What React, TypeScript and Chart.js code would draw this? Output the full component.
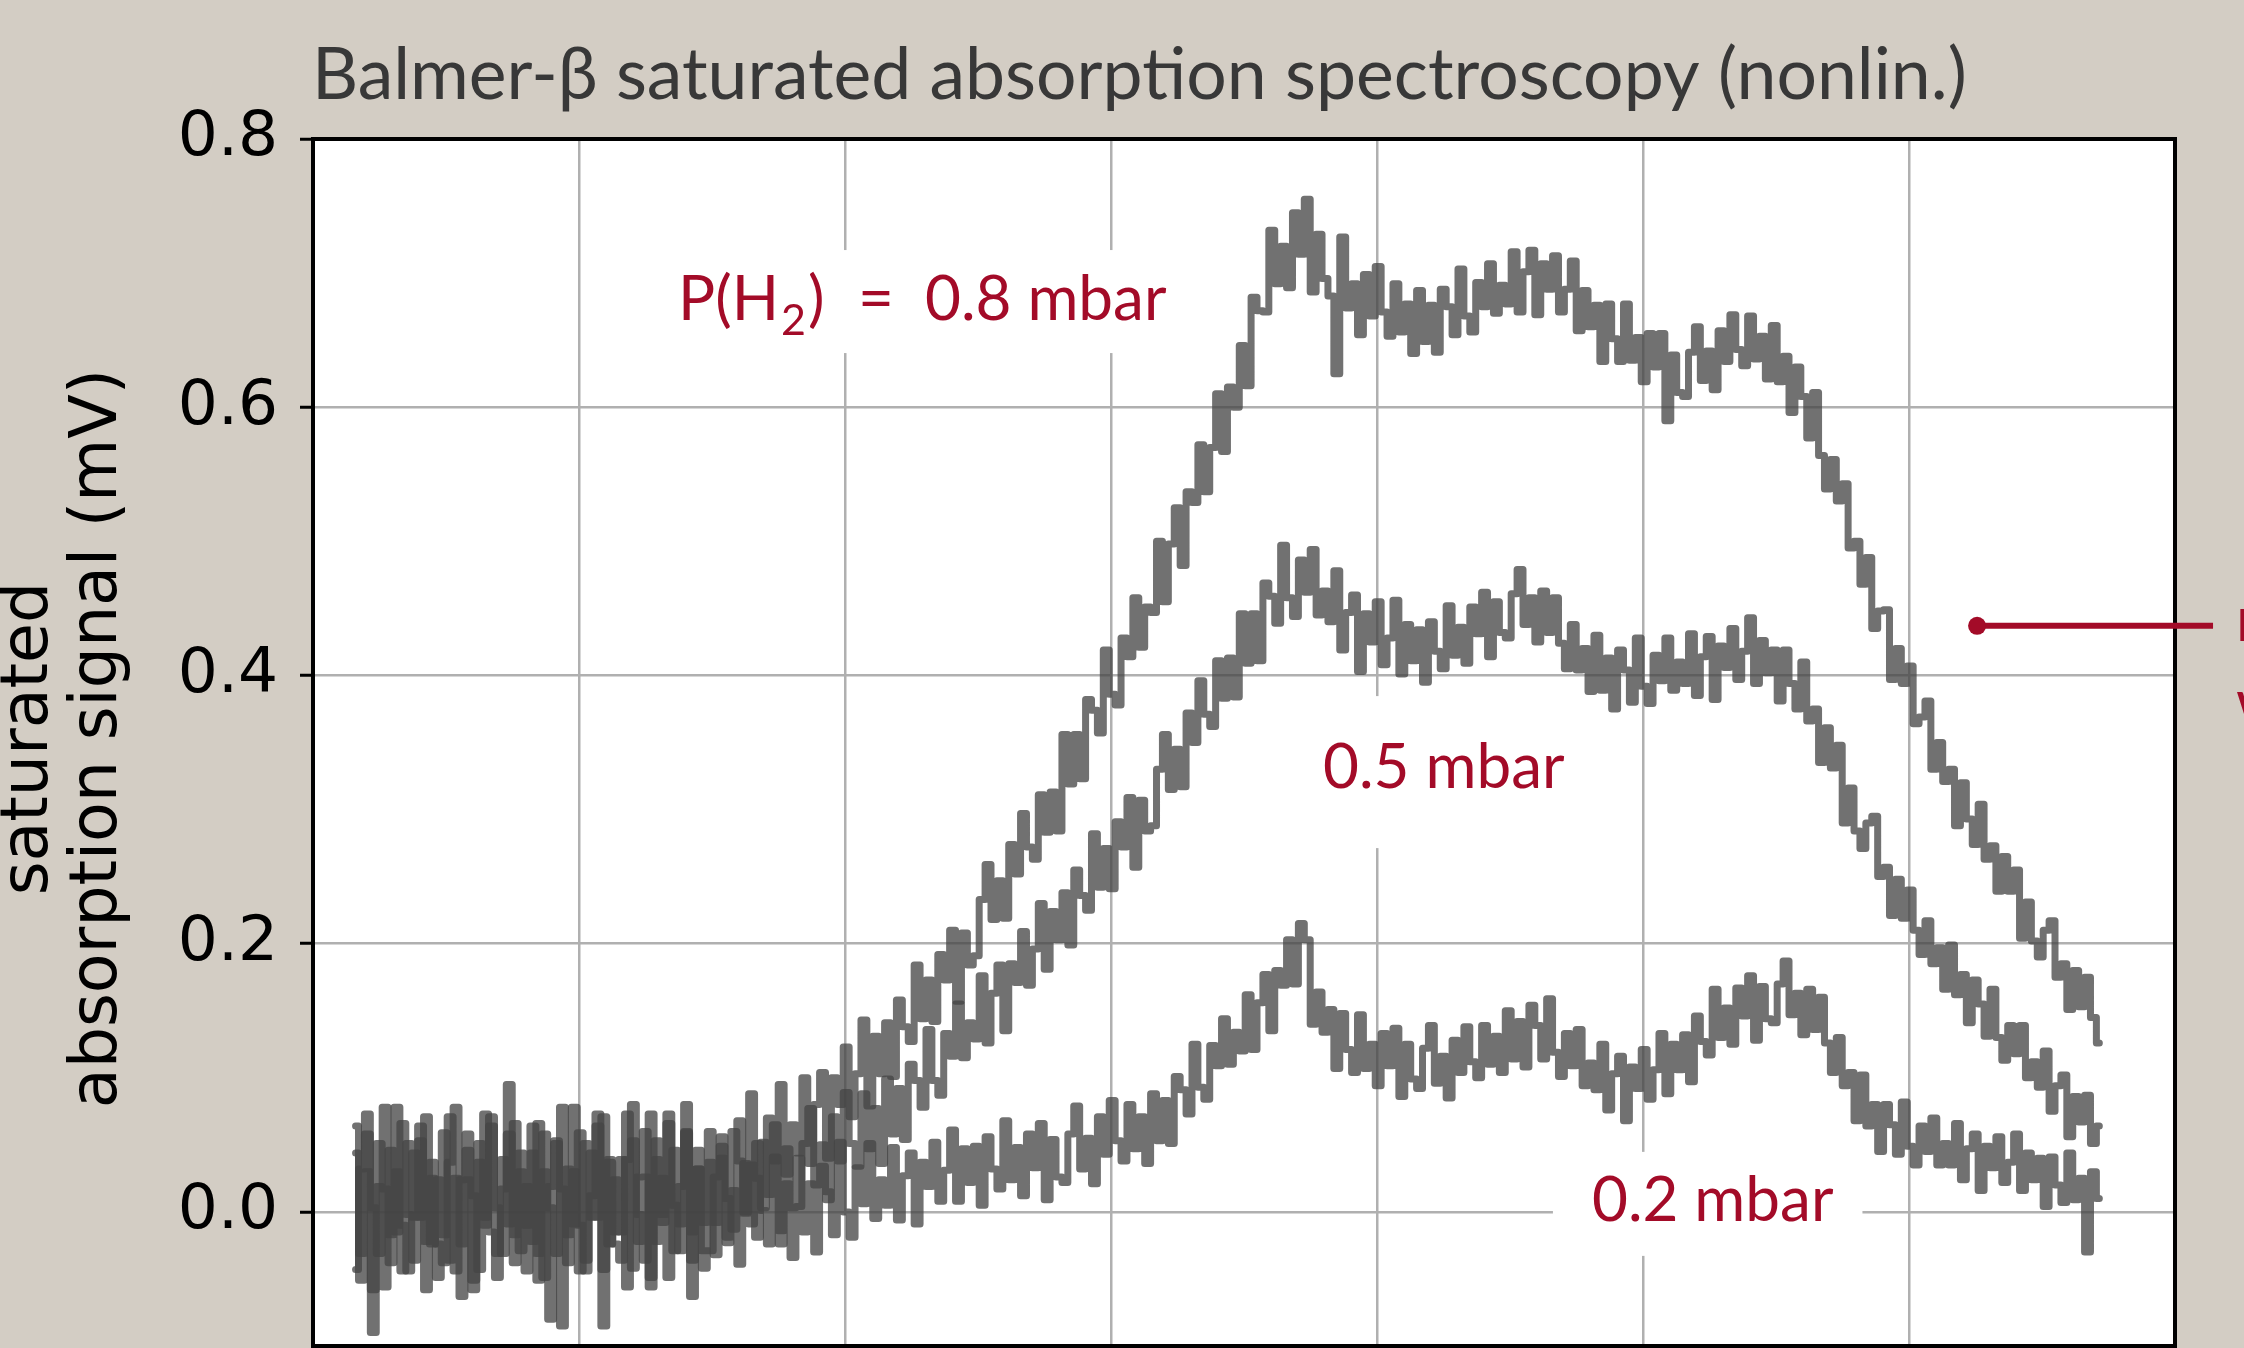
import React, { useEffect, useRef } from "react";
import { Chart, registerables } from "chart.js";

Chart.register(...registerables);

// Scan sampling (x in units of the grid spacing; x tick labels lie outside the visible crop)
const SCAN_START = 0.16;
const SCAN_STEP = 1 / 45;
const X_GRID = [0, 1, 2, 3, 4, 5, 6, 7];
const Y_TICKS = [0, 0.2, 0.4, 0.6, 0.8];

const TITLE = "Balmer-β saturated absorption spectroscopy (nonlin.)";
const Y_LABEL_LINES = ["saturated", "absorption signal (mV)"];

// P(H2) = 0.8 mbar
const SIGNAL_08 = [
  0.064, -0.031, 0.03, -0.058, 0.051, 0.017, -0.038, 0.078, -0.01, -0.044, 0.044, -0.004, 0.071, -0.024, 0.024,
  -0.017, 0.071, -0.044, 0.024, 0.058, -0.058, 0.037, -0.004, 0.064, -0.031, 0.017, 0.095, -0.038, 0.044, -0.01,
  0.044, -0.051, 0.058, 0.003, -0.031, 0.078, -0.017, 0.03, -0.044, 0.051, -0.004, 0.064, -0.085, 0.037, -0.024,
  -0.036, 0.039, 0.08, -0.022, 0.026, -0.049, 0.053, -0.008, 0.073, 0.005, -0.029, 0.06, -0.015, 0.032, -0.042,
  0.06, -0.008, 0.04, -0.023, 0.06, 0.038, 0.0, 0.088, 0.025, 0.003, 0.07, 0.038, 0.095, 0.028, 0.065,
  0.044, 0.1, 0.036, 0.08, 0.104, 0.04, 0.1, 0.08, 0.123, 0.071, 0.103, 0.143, 0.079, 0.131, 0.103,
  0.141, 0.101, 0.158, 0.138, 0.127, 0.184, 0.144, 0.173, 0.142, 0.192, 0.173, 0.21, 0.157, 0.208, 0.184,
  0.191, 0.233, 0.259, 0.218, 0.247, 0.219, 0.274, 0.252, 0.297, 0.272, 0.263, 0.311, 0.283, 0.313, 0.284,
  0.356, 0.319, 0.356, 0.323, 0.382, 0.374, 0.357, 0.419, 0.386, 0.378, 0.428, 0.414, 0.458, 0.421, 0.451,
  0.447, 0.5, 0.455, 0.498, 0.525, 0.482, 0.537, 0.529, 0.572, 0.537, 0.57, 0.61, 0.567, 0.615, 0.6,
  0.646, 0.616, 0.682, 0.672, 0.671, 0.732, 0.692, 0.72, 0.689, 0.745, 0.714, 0.755, 0.686, 0.729, 0.696,
  0.683, 0.625, 0.727, 0.674, 0.692, 0.654, 0.699, 0.668, 0.705, 0.671, 0.653, 0.692, 0.656, 0.677, 0.64,
  0.687, 0.649, 0.676, 0.641, 0.688, 0.675, 0.654, 0.703, 0.668, 0.656, 0.693, 0.675, 0.707, 0.67, 0.691,
  0.677, 0.716, 0.671, 0.701, 0.717, 0.669, 0.707, 0.688, 0.713, 0.671, 0.688, 0.709, 0.657, 0.687, 0.66,
  0.676, 0.634, 0.677, 0.651, 0.634, 0.677, 0.635, 0.652, 0.619, 0.655, 0.63, 0.655, 0.59, 0.639, 0.611,
  0.608, 0.641, 0.66, 0.62, 0.642, 0.613, 0.657, 0.634, 0.669, 0.643, 0.631, 0.668, 0.636, 0.653, 0.621,
  0.661, 0.619, 0.638, 0.596, 0.63, 0.608, 0.577, 0.611, 0.564, 0.539, 0.561, 0.53, 0.543, 0.495, 0.5,
  0.468, 0.488, 0.435, 0.448, 0.449, 0.397, 0.42, 0.394, 0.407, 0.364, 0.369, 0.381, 0.33, 0.35, 0.321,
  0.33, 0.288, 0.32, 0.293, 0.274, 0.304, 0.263, 0.273, 0.239, 0.265, 0.239, 0.255, 0.204, 0.231, 0.202,
  0.19, 0.21, 0.217, 0.175, 0.185, 0.151, 0.18, 0.153, 0.175, 0.145, 0.126,
];

// 0.5 mbar
const SIGNAL_05 = [
  0.044, -0.051, 0.058, 0.003, -0.031, 0.078, -0.017, 0.03, -0.044, 0.051, -0.004, 0.064, -0.058, 0.037, -0.024,
  -0.038, 0.037, 0.078, -0.024, 0.024, -0.051, 0.051, -0.01, 0.071, 0.003, -0.031, 0.058, -0.017, 0.03, -0.044,
  0.064, -0.031, 0.03, -0.08, 0.051, 0.017, -0.038, 0.078, -0.01, -0.044, 0.044, -0.004, 0.071, -0.024, 0.024,
  -0.015, 0.073, -0.042, 0.026, 0.06, -0.056, 0.039, -0.002, 0.066, -0.029, 0.019, 0.08, -0.036, 0.046, -0.008,
  0.037, -0.032, 0.049, 0.01, -0.013, 0.068, -0.001, 0.035, -0.019, 0.052, 0.013, 0.065, -0.024, 0.047, 0.003,
  0.004, 0.051, 0.077, 0.02, 0.05, 0.009, 0.071, 0.038, 0.089, 0.051, 0.034, 0.088, 0.047, 0.077, 0.036,
  0.099, 0.058, 0.092, 0.054, 0.11, 0.098, 0.078, 0.136, 0.098, 0.087, 0.133, 0.116, 0.155, 0.115, 0.141,
  0.129, 0.176, 0.126, 0.163, 0.184, 0.135, 0.185, 0.171, 0.209, 0.169, 0.196, 0.23, 0.181, 0.224, 0.203,
  0.238, 0.199, 0.255, 0.236, 0.225, 0.282, 0.242, 0.271, 0.241, 0.291, 0.272, 0.309, 0.257, 0.307, 0.284,
  0.288, 0.33, 0.356, 0.315, 0.345, 0.317, 0.372, 0.35, 0.396, 0.371, 0.362, 0.411, 0.383, 0.413, 0.384,
  0.446, 0.409, 0.446, 0.411, 0.469, 0.459, 0.439, 0.497, 0.458, 0.444, 0.486, 0.462, 0.494, 0.445, 0.463,
  0.44, 0.478, 0.419, 0.447, 0.46, 0.403, 0.446, 0.425, 0.455, 0.408, 0.428, 0.456, 0.401, 0.438, 0.411,
  0.434, 0.395, 0.44, 0.418, 0.405, 0.452, 0.415, 0.436, 0.409, 0.451, 0.431, 0.462, 0.414, 0.455, 0.432,
  0.428, 0.461, 0.479, 0.438, 0.458, 0.425, 0.463, 0.432, 0.458, 0.424, 0.405, 0.438, 0.404, 0.42, 0.388,
  0.43, 0.389, 0.413, 0.375, 0.419, 0.404, 0.38, 0.428, 0.392, 0.379, 0.415, 0.396, 0.428, 0.389, 0.41,
  0.394, 0.431, 0.385, 0.414, 0.429, 0.382, 0.422, 0.406, 0.435, 0.397, 0.418, 0.443, 0.394, 0.426, 0.402,
  0.419, 0.381, 0.419, 0.394, 0.375, 0.41, 0.366, 0.375, 0.335, 0.361, 0.331, 0.348, 0.29, 0.316, 0.284,
  0.271, 0.29, 0.295, 0.25, 0.257, 0.221, 0.248, 0.219, 0.24, 0.21, 0.192, 0.217, 0.185, 0.197, 0.166,
  0.199, 0.162, 0.177, 0.141, 0.173, 0.155, 0.131, 0.166, 0.13, 0.113, 0.139, 0.118, 0.139, 0.1, 0.112,
  0.093, 0.12, 0.075, 0.094, 0.102, 0.056, 0.086, 0.067, 0.087, 0.051, 0.064,
];

// 0.2 mbar
const SIGNAL_02 = [
  -0.043, 0.032, 0.073, -0.09, 0.019, -0.056, 0.046, -0.015, 0.066, -0.002, -0.036, 0.053, -0.022, 0.025, -0.049,
  0.059, -0.036, 0.025, -0.063, 0.046, 0.012, -0.043, 0.073, -0.015, -0.049, 0.039, -0.009, 0.066, -0.029, 0.019,
  -0.022, 0.066, -0.049, 0.019, 0.053, -0.085, 0.032, -0.009, 0.059, -0.036, 0.012, 0.073, -0.043, 0.039, -0.015,
  0.039, -0.056, 0.053, -0.002, -0.036, 0.073, -0.022, 0.025, -0.049, 0.046, -0.009, 0.059, -0.063, 0.032, -0.029,
  -0.029, 0.026, 0.056, -0.019, 0.016, -0.039, 0.036, -0.009, 0.051, 0.001, -0.024, 0.041, -0.014, 0.021, -0.034,
  0.04, -0.015, 0.021, -0.03, 0.034, 0.015, -0.017, 0.052, 0.0, -0.019, 0.033, 0.006, 0.051, -0.005, 0.024,
  0.005, 0.048, -0.006, 0.027, 0.044, -0.009, 0.037, 0.019, 0.052, 0.008, 0.031, 0.061, 0.008, 0.047, 0.022,
  0.049, 0.005, 0.056, 0.032, 0.017, 0.068, 0.024, 0.048, 0.012, 0.058, 0.033, 0.066, 0.009, 0.054, 0.026,
  0.022, 0.058, 0.079, 0.032, 0.055, 0.021, 0.071, 0.043, 0.083, 0.053, 0.038, 0.08, 0.047, 0.071, 0.036,
  0.088, 0.053, 0.083, 0.051, 0.101, 0.091, 0.073, 0.125, 0.093, 0.084, 0.124, 0.109, 0.144, 0.11, 0.134,
  0.12, 0.162, 0.121, 0.156, 0.177, 0.135, 0.18, 0.169, 0.203, 0.17, 0.215, 0.203, 0.14, 0.164, 0.134,
  0.151, 0.107, 0.148, 0.121, 0.104, 0.147, 0.107, 0.125, 0.094, 0.133, 0.109, 0.137, 0.086, 0.125, 0.099,
  0.092, 0.122, 0.139, 0.096, 0.116, 0.085, 0.128, 0.104, 0.138, 0.112, 0.1, 0.139, 0.11, 0.131, 0.104,
  0.15, 0.114, 0.142, 0.108, 0.154, 0.139, 0.114, 0.159, 0.119, 0.101, 0.133, 0.109, 0.136, 0.094, 0.111,
  0.091, 0.125, 0.076, 0.103, 0.116, 0.068, 0.108, 0.092, 0.121, 0.084, 0.106, 0.133, 0.088, 0.125, 0.106,
  0.132, 0.097, 0.146, 0.127, 0.117, 0.166, 0.13, 0.152, 0.125, 0.167, 0.146, 0.176, 0.128, 0.168, 0.144,
  0.141, 0.17, 0.187, 0.147, 0.163, 0.132, 0.166, 0.136, 0.16, 0.126, 0.104, 0.13, 0.094, 0.104, 0.068,
  0.102, 0.064, 0.08, 0.045, 0.08, 0.065, 0.043, 0.082, 0.049, 0.035, 0.064, 0.045, 0.07, 0.035, 0.051,
  0.035, 0.066, 0.024, 0.047, 0.058, 0.016, 0.049, 0.033, 0.056, 0.022, 0.037, 0.058, 0.016, 0.044, 0.024,
  0.04, 0.004, 0.041, 0.02, 0.007, 0.044, 0.009, 0.025, -0.03, 0.03, 0.01,
];

const SERIES = [
  { name: "0.8 mbar", values: SIGNAL_08 },
  { name: "0.5 mbar", values: SIGNAL_05 },
  { name: "0.2 mbar", values: SIGNAL_02 },
];

const TRACE_COLOR = "rgba(68,68,68,0.76)";
const RED = "#a30b28";
const LABEL_FONT = "62px Lato, 'Noto Sans', sans-serif";
const SUB_FONT = "43px Lato, 'Noto Sans', sans-serif";

function toPoints(values: number[]) {
  return values.map((v, i) => ({ x: SCAN_START + i * SCAN_STEP, y: v }));
}

const decor = {
  id: "decor",
  beforeDraw(chart: any) {
    const { ctx, chartArea: a } = chart;
    ctx.save();
    ctx.fillStyle = "#ffffff";
    ctx.fillRect(a.left, a.top, a.right - a.left, a.bottom - a.top);
    ctx.restore();
  },
  afterDatasetsDraw(chart: any) {
    const { ctx, chartArea: a } = chart;
    const xs = chart.scales.x;
    const ys = chart.scales.y;
    const P = (x: number, y: number) => [xs.getPixelForValue(x), ys.getPixelForValue(y)];
    ctx.save();
    ctx.textBaseline = "alphabetic";
    ctx.textAlign = "left";

    // P(H2) = 0.8 mbar
    {
      const [lx, ly] = P(1.372, 0.665);
      ctx.fillStyle = "#ffffff";
      ctx.fillRect(lx - 30, ly - 70, 533, 103);
      ctx.fillStyle = RED;
      ctx.font = LABEL_FONT;
      let cx = lx;
      ctx.fillText("P(H", cx, ly);
      cx += ctx.measureText("P(H").width + 2;
      ctx.font = SUB_FONT;
      ctx.fillText("2", cx, ly + 15);
      cx += ctx.measureText("2").width + 2;
      ctx.font = LABEL_FONT;
      ctx.fillText(")", cx, ly);
      ctx.fillText("=", lx + 180, ly);
      ctx.fillText("0.8 mbar", lx + 247, ly);
    }
    // 0.5 mbar
    {
      const [lx, ly] = P(3.797, 0.316);
      ctx.font = LABEL_FONT;
      const w = ctx.measureText("0.5 mbar").width;
      ctx.fillStyle = "#ffffff";
      ctx.fillRect(lx - 30, ly - 92, w + 60, 152);
      ctx.fillStyle = RED;
      ctx.fillText("0.5 mbar", lx, ly);
    }
    // 0.2 mbar
    {
      const [lx, ly] = P(4.808, -0.0067);
      ctx.font = LABEL_FONT;
      const w = ctx.measureText("0.2 mbar").width;
      ctx.fillStyle = "#ffffff";
      ctx.fillRect(lx - 39, ly - 69, w + 68, 104);
      ctx.fillStyle = RED;
      ctx.fillText("0.2 mbar", lx, ly);
    }

    // frame
    ctx.strokeStyle = "#000000";
    ctx.lineWidth = 4;
    ctx.strokeRect(a.left, a.top, a.right - a.left, a.bottom - a.top);
    ctx.restore();
  },
  afterDraw(chart: any) {
    const { ctx, chartArea: a } = chart;
    const xs = chart.scales.x;
    const ys = chart.scales.y;
    ctx.save();
    // title
    ctx.font = "71.5px Lato, 'Noto Sans', sans-serif";
    ctx.fillStyle = "#383838";
    ctx.textAlign = "left";
    ctx.textBaseline = "alphabetic";
    ctx.fillText(TITLE, a.left - 1, 99);

    // y label
    const cy = (a.top + a.bottom) / 2 - 4;
    ctx.font = "65px 'DejaVu Sans', sans-serif";
    ctx.fillStyle = "#000000";
    ctx.textAlign = "center";
    const baseX = [47, 116];
    Y_LABEL_LINES.forEach((line, i) => {
      ctx.save();
      ctx.translate(baseX[i], cy);
      ctx.rotate(-Math.PI / 2);
      ctx.fillText(line, 0, 0);
      ctx.restore();
    });

    // red pointer (annotation continuing past the right edge)
    const x0 = xs.getPixelForValue(6.256);
    const y0 = ys.getPixelForValue(0.437);
    const x1 = xs.getPixelForValue(7.143);
    ctx.strokeStyle = RED;
    ctx.fillStyle = RED;
    ctx.lineWidth = 6;
    ctx.beginPath();
    ctx.moveTo(x0, y0);
    ctx.lineTo(x1, y0);
    ctx.stroke();
    ctx.beginPath();
    ctx.arc(x0, y0, 9, 0, Math.PI * 2);
    ctx.fill();
    ctx.font = LABEL_FONT;
    ctx.textAlign = "left";
    ctx.fillText("residual", x1 + 23, y0 + 15);
    ctx.fillText("wings", x1 + 23, y0 + 98);
    ctx.restore();
  },
};

export default function App() {
  const ref = useRef<HTMLCanvasElement | null>(null);
  useEffect(() => {
    document.body.style.margin = "0";
    const canvas = ref.current;
    if (!canvas) return;
    const chart = new Chart(canvas, {
      type: "line",
      data: {
        datasets: SERIES.map((s) => ({
          label: s.name,
          data: toPoints(s.values),
          borderColor: TRACE_COLOR,
          backgroundColor: TRACE_COLOR,
          borderWidth: 7,
          borderJoinStyle: "round",
          borderCapStyle: "round",
          stepped: "middle",
          pointRadius: 0,
          tension: 0,
          fill: false,
        })),
      },
      options: {
        responsive: false,
        animation: false,
        devicePixelRatio: 1,
        layout: { padding: { left: 0, top: 139, right: 69, bottom: 2 } },
        plugins: {
          legend: { display: false },
          tooltip: { enabled: false },
          title: { display: false },
        },
        scales: {
          x: {
            type: "linear",
            min: 0,
            max: 7,
            afterBuildTicks: (s: any) => {
              s.ticks = X_GRID.map((v) => ({ value: v }));
            },
            afterFit: (s: any) => {
              s.height = 0;
              s.paddingLeft = 0;
              s.paddingRight = 0;
              s.paddingTop = 0;
              s.paddingBottom = 0;
            },
            ticks: { display: false },
            grid: { color: "#b0b0b0", lineWidth: 2.5, drawTicks: false },
            border: { display: false },
          },
          y: {
            type: "linear",
            min: -0.1,
            max: 0.8,
            afterBuildTicks: (s: any) => {
              s.ticks = Y_TICKS.map((v) => ({ value: v }));
            },
            afterFit: (s: any) => {
              s.width = 313;
              s.paddingTop = 0;
              s.paddingBottom = 0;
              s.paddingLeft = 0;
              s.paddingRight = 0;
            },
            ticks: {
              color: "#000000",
              font: { family: "'DejaVu Sans'", size: 63 },
              padding: 22,
              callback: (v: any) => Number(v).toFixed(1),
            },
            grid: {
              color: "#b0b0b0",
              lineWidth: 2.5,
              tickColor: "#000000",
              tickLength: 13,
              tickWidth: 3,
            },
            border: { display: false },
          },
        },
      } as any,
      plugins: [decor],
    });
    return () => chart.destroy();
  }, []);

  return (
    <div
      style={{
        position: "fixed",
        left: 0,
        top: 0,
        width: 2244,
        height: 1348,
        background: "#d3cdc4",
        overflow: "hidden",
      }}
    >
      <canvas ref={ref} width={2244} height={1348} style={{ display: "block" }} />
    </div>
  );
}
